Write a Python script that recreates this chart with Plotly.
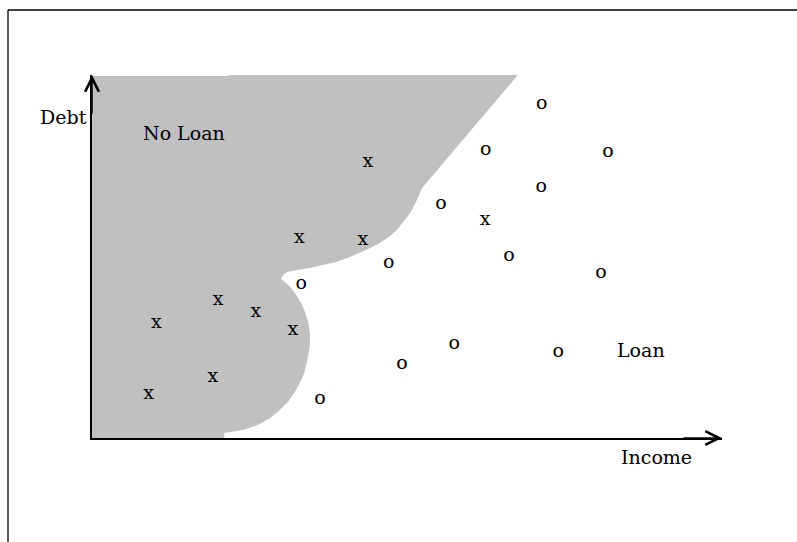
import plotly.graph_objects as go

# ---- data (Income, Debt on a 0-100 scale) ----
income_noloan = [43.8, 32.9, 43.0, 62.4, 20.0, 26.0, 10.2, 31.9, 19.2, 9.0]
debt_noloan = [76.0, 55.1, 54.5, 60.1, 38.0, 34.7, 31.7, 29.8, 16.8, 12.1]

income_loan = [71.4, 62.5, 81.9, 71.3, 55.4, 66.2, 47.1, 80.8, 33.2, 57.5, 49.2, 74.0, 36.2]
debt_loan = [92.0, 79.3, 78.8, 69.1, 64.5, 50.1, 48.2, 45.5, 42.4, 25.9, 20.4, 23.7, 10.7]

# boundary of the "No Loan" decision region
region_income = [0, 0, 20.95, 22.2, 67.6, 52.4,
                 51.9, 51.3, 50.5, 49.5, 48.4, 47.1, 45.7, 44.1, 42.5, 40.6, 38.7,
                 36.7, 34.6, 32.5, 31.0, 30.3, 30.0,
                 30.8, 31.6, 32.4, 33.2, 33.8, 34.3, 34.6, 34.6, 34.4, 34.1, 33.7,
                 33.0, 32.2, 31.1, 29.8, 28.3, 26.3, 24.0, 22.2, 21.0, 21.0, 0]
region_debt = [0, 99.7, 99.7, 100, 100, 68.9,
               66.9, 64.5, 62.0, 59.8, 57.3, 55.4, 53.7, 52.3, 51.0, 49.6, 48.5,
               47.7, 46.8, 46.3, 45.7, 44.9, 43.8,
               42.7, 41.3, 39.4, 37.2, 34.7, 32.0, 28.9, 26.2, 23.4, 20.7, 17.9,
               15.2, 12.7, 9.9, 7.7, 5.5, 3.6, 2.2, 1.7, 1.4, 0, 0]

# ---- figure geometry (pixels) ----
W, H = 797, 542
X0, X1 = 92, 722   # x-axis pixel span
Y0, Y1 = 438, 75   # y-axis pixel span (bottom, top)


def pxx(p):
    return (p - X0) / (X1 - X0)


def pxy(p):
    return (Y0 - p) / (Y0 - Y1)


FONT = "DejaVu Serif"
FS = 19

fig = go.Figure()

fig.add_trace(go.Scatter(
    x=region_income, y=region_debt, mode="lines", fill="toself",
    fillcolor="#c0c0c0", line=dict(width=0, color="#c0c0c0"),
    hoverinfo="skip", showlegend=False))

fig.add_trace(go.Scatter(
    x=income_noloan, y=debt_noloan, mode="text", text=["x"] * len(income_noloan),
    textposition="middle center", textfont=dict(family=FONT, size=FS, color="black"),
    hoverinfo="skip", showlegend=False))

fig.add_trace(go.Scatter(
    x=income_loan, y=debt_loan, mode="text", text=["o"] * len(income_loan),
    textposition="middle center", textfont=dict(family=FONT, size=FS, color="black"),
    hoverinfo="skip", showlegend=False))

axis_common = dict(showline=True, linecolor="black", linewidth=1.5, showgrid=False,
                   zeroline=False, showticklabels=False, ticks="", fixedrange=True)
fig.update_xaxes(range=[0, 100], **axis_common)
fig.update_yaxes(range=[0, 100], **axis_common)

# axis arrowheads
fig.add_annotation(x=100, y=0, xref="x", yref="y", ax=-40, ay=0, text="",
                   showarrow=True, arrowhead=5, arrowsize=1.8, arrowwidth=1.5,
                   arrowcolor="black")
fig.add_annotation(x=0, y=100, xref="x", yref="y", ax=0, ay=40, text="",
                   showarrow=True, arrowhead=5, arrowsize=1.8, arrowwidth=1.5,
                   arrowcolor="black")

# labels
lab = dict(showarrow=False, font=dict(family=FONT, size=FS, color="black"),
           xanchor="center", yanchor="middle")
fig.add_annotation(x=pxx(63.5), y=pxy(116.5), xref="paper", yref="paper", text="Debt", **lab)
fig.add_annotation(x=pxx(656.5), y=pxy(456.5), xref="paper", yref="paper", text="Income", **lab)
fig.add_annotation(x=14.6, y=84.0, xref="x", yref="y", text="No Loan", **lab)
fig.add_annotation(x=87.1, y=24.2, xref="x", yref="y", text="Loan", **lab)

# frame lines (top and left)
fig.add_shape(type="line", xref="paper", yref="paper", x0=pxx(8), x1=pxx(W + 2),
              y0=pxy(10), y1=pxy(10), line=dict(color="black", width=1.3))
fig.add_shape(type="line", xref="paper", yref="paper", x0=pxx(8), x1=pxx(8),
              y0=pxy(10), y1=pxy(H + 2), line=dict(color="black", width=1.3))

fig.update_layout(
    width=W, height=H,
    margin=dict(l=X0, r=W - X1, t=Y1, b=H - Y0, pad=0),
    paper_bgcolor="white", plot_bgcolor="rgba(0,0,0,0)",
    showlegend=False,
)

fig.write_html("out.html", config={"displayModeBar": False},
               post_script="document.body.style.margin='0';document.body.style.overflow='hidden';")
